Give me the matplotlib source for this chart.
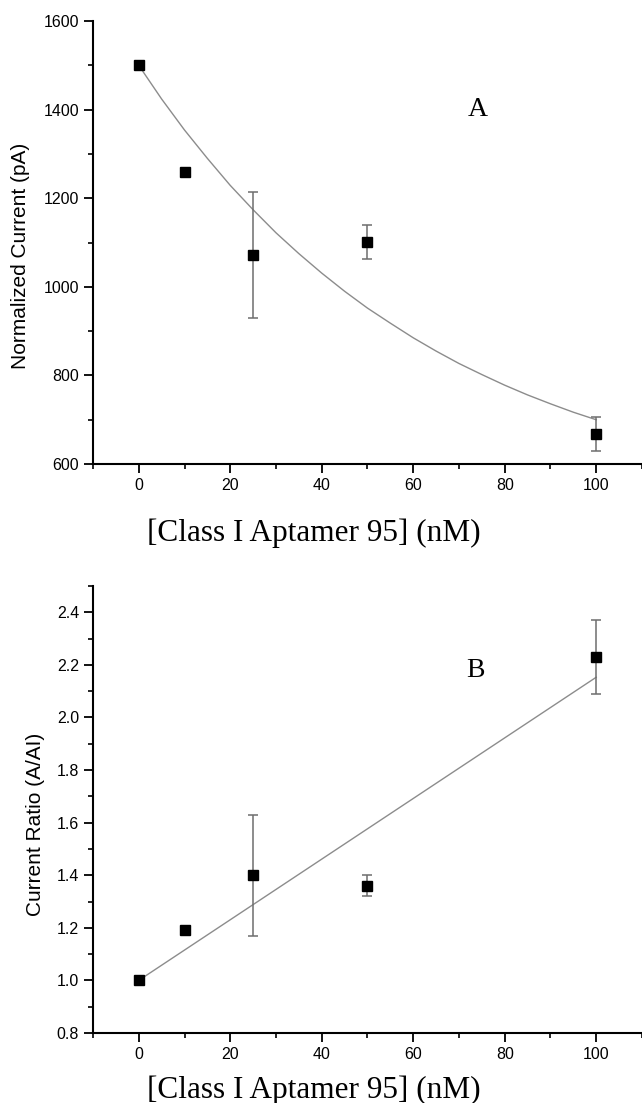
import numpy as np
import matplotlib.pyplot as plt
from matplotlib.ticker import MultipleLocator

# aptamer concentration (nM)
conc = [0, 10, 25, 50, 100]

# panel A: normalized current (pA)
current = [1500, 1260, 1072, 1101, 668]
current_err = [0, 0, 142, 38, 38]
# exponential fit curve, every 5 nM
fit_a_x = [0, 5, 10, 15, 20, 25, 30, 35, 40, 45, 50,
           55, 60, 65, 70, 75, 80, 85, 90, 95, 100]
fit_a_y = [1500, 1424, 1354, 1290, 1229, 1174, 1122, 1075, 1031, 990, 952,
           918, 885, 855, 827, 802, 778, 756, 736, 717, 700]

# panel B: current ratio (A/AI)
ratio = [1.0, 1.19, 1.40, 1.36, 2.23]
ratio_err = [0, 0, 0.23, 0.04, 0.14]
# linear fit, end points
fit_b_x = [0, 100]
fit_b_y = [1.0, 2.153]

xlabel = '[Class I Aptamer 95] (nM)'

plt.rcParams['font.family'] = 'Liberation Sans'

fig = plt.figure(figsize=(6.42, 11.03), dpi=100)
axA = fig.add_axes([0.1449, 0.5793, 0.855, 0.4016])
axB = fig.add_axes([0.1449, 0.0635, 0.855, 0.4052])


def style(ax, xlab_y):
    for s in ['top', 'right']:
        ax.spines[s].set_visible(False)
    for s in ['left', 'bottom']:
        ax.spines[s].set_linewidth(1.5)
    ax.tick_params(which='major', direction='out', length=6.5, width=1.3, labelsize=11.5)
    ax.tick_params(which='minor', direction='out', length=3.5, width=1.2)
    ax.set_xlim(-10, 110)
    ax.xaxis.set_major_locator(MultipleLocator(20))
    ax.xaxis.set_minor_locator(MultipleLocator(10))
    ax.set_xlabel(xlabel, family='Liberation Serif', fontsize=22.5, va='center')
    ax.xaxis.set_label_coords(0.4026, xlab_y)


def plotpanel(ax, y, err, fx, fy):
    ax.plot(fx, fy, color='#8c8c8c', lw=1.0, zorder=2)
    ax.errorbar(conc, y, yerr=err, fmt='none', ecolor='#6e6e6e',
                elinewidth=1.1, capsize=3.5, capthick=1.1, zorder=3)
    ax.plot(conc, y, 's', color='black', ms=6.5, zorder=4)


plotpanel(axA, current, current_err, fit_a_x, fit_a_y)
style(axA, -0.156)
axA.set_ylim(600, 1600)
axA.yaxis.set_major_locator(MultipleLocator(200))
axA.yaxis.set_minor_locator(MultipleLocator(100))
axA.set_ylabel('Normalized Current (pA)', fontsize=15, va='center')
axA.yaxis.set_label_coords(-0.133, 0.47)
axA.text(74, 1400, 'A', family='Liberation Serif', fontsize=20, ha='center', va='center')

plotpanel(axB, ratio, ratio_err, fit_b_x, fit_b_y)
style(axB, -0.128)
axB.set_ylim(0.8, 2.5)
axB.yaxis.set_major_locator(MultipleLocator(0.2))
axB.yaxis.set_minor_locator(MultipleLocator(0.1))
axB.set_ylabel('Current Ratio (A/AI)', fontsize=15, va='center')
axB.yaxis.set_label_coords(-0.104, 0.467)
axB.text(73.5, 2.18, 'B', family='Liberation Serif', fontsize=20, ha='center', va='center')

fig.savefig('out.png', dpi=100)
